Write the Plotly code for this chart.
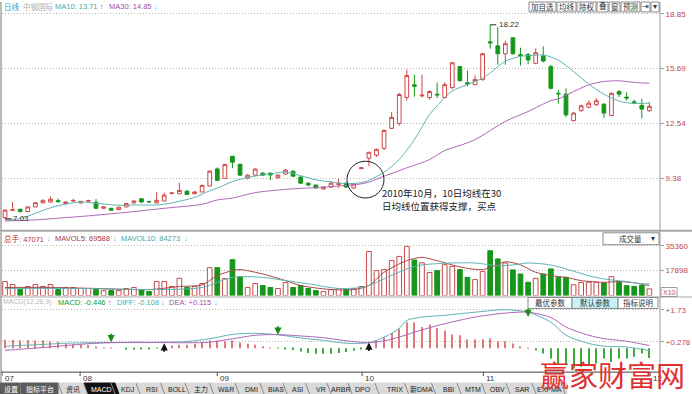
import plotly.graph_objects as go

W, H = 692, 394
def X(px): return px / W
def Y(py): return 1 - py / H

FONT = "Liberation Sans, Noto Sans CJK SC, sans-serif"
CJK = "Noto Sans CJK SC, sans-serif"

# ---------------- data ----------------
candle_idx = list(range(86))
opens = [7.10,7.52,7.58,7.45,7.72,7.95,8.00,8.08,7.91,8.06,
         7.95,8.06,7.99,7.64,7.64,7.56,7.72,7.95,8.19,8.03,
         7.95,8.06,8.49,8.48,8.63,8.48,8.58,8.92,9.91,9.36,
         10.64,10.18,9.38,9.55,9.67,9.67,9.40,9.61,9.78,9.44,
         9.09,8.98,8.75,8.86,9.02,9.09,8.81,9.93,10.53,10.70,
         11.10,12.25,12.54,14.03,14.76,14.12,14.03,14.22,14.03,14.60,
         15.81,14.88,14.77,15.06,17.24,17.01,16.55,17.47,16.50,16.51,
         16.00,16.42,15.81,14.27,14.22,12.69,13.28,13.47,13.61,13.64,
         12.99,14.37,14.05,13.78,13.57,13.27]
highs = [7.60,8.00,7.62,7.75,8.00,8.14,8.31,8.20,8.03,8.20,
         8.06,8.13,8.17,7.74,7.66,7.72,7.95,8.10,8.22,8.08,
         8.58,8.55,8.58,9.11,8.66,8.62,9.00,9.82,10.00,10.20,
         10.66,10.20,9.60,9.95,9.70,9.70,9.60,9.90,9.82,9.46,
         9.12,9.00,8.90,9.20,9.33,9.12,9.08,10.00,10.90,11.08,
         12.20,13.20,14.30,15.63,15.35,15.35,14.45,14.90,14.90,16.08,
         15.85,15.58,15.30,16.60,18.22,18.10,17.30,17.50,16.90,16.60,
         16.85,16.97,15.90,14.45,14.56,13.20,13.62,13.85,14.00,13.70,
         14.32,14.45,14.32,13.90,13.95,13.75]
lows = [7.03,7.48,7.40,7.42,7.70,7.92,7.97,7.98,7.88,8.00,
        7.92,8.02,7.60,7.62,7.48,7.54,7.70,7.93,7.98,7.98,
        7.93,8.04,8.45,8.46,8.42,8.45,8.55,8.90,9.20,9.34,
        9.95,9.50,9.30,9.50,9.50,9.26,9.36,9.58,9.45,9.05,
        8.92,8.78,8.72,8.84,8.82,8.82,8.78,9.90,10.07,10.60,
        11.00,12.20,12.40,13.85,14.08,14.03,13.90,14.00,13.98,14.50,
        14.95,14.66,14.75,15.00,16.84,15.92,15.92,16.50,15.87,15.95,
        15.95,16.05,14.50,13.68,12.90,12.65,13.20,13.40,13.55,12.85,
        12.95,14.05,13.85,13.65,12.82,13.20]
closes = [7.53,7.55,7.45,7.72,7.96,8.10,8.16,8.02,8.00,8.09,
          8.04,8.08,7.64,7.72,7.53,7.70,7.91,8.06,8.00,8.01,
          8.10,8.40,8.52,8.67,8.44,8.58,8.96,9.78,9.25,10.17,
          10.30,9.55,9.55,9.90,9.55,9.56,9.55,9.84,9.49,9.09,
          8.98,8.81,8.86,9.09,9.05,8.86,9.04,9.97,10.87,11.04,
          12.13,12.88,14.20,15.29,14.68,14.16,14.37,14.18,14.77,16.03,
          15.00,14.80,15.06,16.55,17.18,16.55,17.13,16.55,16.45,16.19,
          16.61,16.13,14.56,14.24,13.03,13.13,13.55,13.70,13.84,13.13,
          14.27,14.22,14.00,13.73,13.36,13.52]

ma10_x = [0,2,4,6,8,10,12,15,17,20,22,25,27,28,30,33,35,37,39,41,43,45,47,48,50,52,54,56,57,59,61,63,64,66,68,70,71,73,75,77,79,81,83,85]
ma10 = [6.97,7.05,7.35,7.67,7.88,8.00,7.93,7.81,7.83,7.83,7.95,8.27,8.65,8.80,9.18,9.50,9.63,9.72,9.52,9.28,
        9.16,9.06,9.12,9.25,9.72,10.45,11.60,13.05,13.55,14.40,14.77,15.15,15.45,16.12,16.40,16.46,16.49,16.18,15.52,14.80,
        14.22,13.82,13.68,13.71]
ma30_x = [0,4,8,12,17,21,26,28,30,33,37,42,45,47,48,50,53,56,58,60,62,66,69,72,73,75,77,79,81,83,85]
ma30 = [6.91,6.97,7.10,7.24,7.45,7.64,7.87,8.12,8.23,8.54,8.73,8.86,8.96,9.05,9.15,9.49,9.97,10.45,10.97,11.26,
        11.60,12.65,13.22,13.85,13.95,14.37,14.76,14.95,14.99,14.90,14.85]

volumes = [9900,7800,4200,6400,7800,6400,7800,4200,5700,5700,
           5000,5000,5000,3500,3500,3500,5000,5700,4200,2800,
           9900,9900,6400,12200,5700,6400,8500,19800,19800,12000,
           25500,13400,5700,8500,7100,5700,5000,9200,5700,7100,
           5000,3500,2800,4200,5000,4200,5000,6400,31300,17700,
           18400,24800,27800,34900,25200,23300,16300,17700,21900,20700,
           18400,12900,11300,17000,31800,26000,23100,18200,15300,9400,
           12200,15300,18900,12900,12900,7600,9200,9400,9400,9000,
           13400,9400,7000,6500,7200,4707]
mavol5_x = [0,6,12,19,23,26,28,30,31,34,37,39,43,46,48,50,53,55,57,59,61,63,64,66,68,70,72,74,76,79,81,83,85]
mavol5 = [5700,5700,5000,4200,6400,7600,14100,17700,18400,15300,10600,7100,4200,4200,7100,16500,24800,27100,24800,21700,
          19300,18400,20000,24000,21700,16500,14100,12900,10600,9400,9900,9000,6959]
mavol10_x = [0,10,20,26,30,34,37,40,44,47,48,53,55,59,62,65,67,69,72,74,77,79,82,84,85]
mavol10 = [5000,5000,4200,5700,12900,12900,10600,8300,5000,5700,7100,18900,21700,23100,23100,21200,21700,23100,21700,18900,
           14100,11800,9900,8300,8427]

macd = [0.38,0.38,0.36,0.36,0.34,0.34,0.30,0.28,0.20,0.18,
        0.16,0.14,0.04,0.02,0.01,0.00,-0.02,-0.03,-0.03,-0.02,
        -0.01,0.01,0.12,0.15,0.15,0.20,0.25,0.34,0.34,0.30,
        0.34,0.25,0.20,0.15,0.09,0.02,-0.01,-0.02,-0.08,-0.15,
        -0.22,-0.25,-0.25,-0.25,-0.22,-0.17,-0.12,-0.05,0.03,0.35,
        0.50,0.68,0.88,1.17,1.15,0.95,1.06,0.91,0.80,0.61,
        0.58,0.39,0.39,0.40,0.43,0.31,0.31,0.21,0.09,0.02,
        -0.09,-0.24,-0.47,-0.74,-0.77,-0.91,-0.84,-0.77,-0.69,-0.47,
        -0.62,-0.47,-0.47,-0.39,-0.24,-0.446]
diff_x = [0,4,8,12,16,20,24,27,30,33,36,39,42,45,48,50,52,53,55,58,62,66,69,72,74,77,79,82,85]
diff = [0.09,0.15,0.22,0.25,0.25,0.255,0.30,0.42,0.62,0.67,0.60,0.46,0.35,0.22,0.25,0.49,0.89,1.25,1.40,1.48,
        1.62,1.73,1.62,1.17,0.58,0.21,0.09,0.05,-0.108]
dea_x = [0,4,8,12,16,20,24,27,30,33,36,39,42,45,48,50,52,54,56,58,62,66,69,72,74,77,79,82,85]
dea = [-0.10,0.00,0.12,0.22,0.26,0.26,0.24,0.27,0.42,0.58,0.61,0.55,0.47,0.33,0.25,0.33,0.50,0.72,0.92,1.10,
       1.40,1.58,1.62,1.38,0.95,0.58,0.43,0.31,0.115]

cross_up_x = [21, 48]
cross_up_y = [0.22, 0.25]
cross_dn_x = [14, 36, 69]
cross_dn_y = [0.27, 0.60, 1.40]

month_labels = ["07", "08", "09", "10", "11", "12"]
month_pos = [-0.4, 9.9, 28.0, 47.1, 63.1, 85.1]

price_ticks = [9.38, 12.54, 15.69, 18.85]
price_ticktext = ["9.38", "12.54", "15.69", "18.85"]
vol_ticks = [17898, 35360]
macd_ticks = [0.278, 1.73]
macd_ticktext = ["+0.278", "+1.73"]

# ---------------- colours ----------------
RED = "#d04545"
GREEN = "#16961a"
TEAL = "#5cb3b3"
PURPLE = "#b065b8"
AXR = "#c04848"

fig = go.Figure()

fig.add_trace(go.Candlestick(
    x=candle_idx, open=opens, high=highs, low=lows, close=closes,
    increasing=dict(line=dict(color=RED, width=1), fillcolor="white"),
    decreasing=dict(line=dict(color=GREEN, width=1), fillcolor=GREEN),
    whiskerwidth=0, hoverinfo="skip", yaxis="y"))
fig.add_trace(go.Scatter(x=ma10_x, y=ma10, mode="lines", line=dict(color=TEAL, width=1, shape="spline", smoothing=0.8), yaxis="y", hoverinfo="skip"))
fig.add_trace(go.Scatter(x=ma30_x, y=ma30, mode="lines", line=dict(color=PURPLE, width=1, shape="spline", smoothing=0.8), yaxis="y", hoverinfo="skip"))

up = [c >= o for o, c in zip(opens, closes)]
fig.add_trace(go.Bar(
    x=candle_idx, y=volumes, width=0.62, yaxis="y2",
    marker=dict(color=["white" if u else GREEN for u in up],
                line=dict(color=["#c44a4a" if u else GREEN for u in up], width=1)),
    hoverinfo="skip"))
fig.add_trace(go.Scatter(x=mavol5_x, y=mavol5, mode="lines", line=dict(color="#a84848", width=1, shape="spline", smoothing=0.8), yaxis="y2", hoverinfo="skip"))
fig.add_trace(go.Scatter(x=mavol10_x, y=mavol10, mode="lines", line=dict(color=TEAL, width=1, shape="spline", smoothing=0.8), yaxis="y2", hoverinfo="skip"))

fig.add_trace(go.Bar(
    x=candle_idx, y=macd, width=0.14, yaxis="y3",
    marker=dict(color=["#e07b7b" if v >= 0 else "#3aaa3a" for v in macd], line=dict(width=0)),
    hoverinfo="skip"))
fig.add_trace(go.Scatter(x=diff_x, y=diff, mode="lines", line=dict(color=TEAL, width=1, shape="spline", smoothing=0.8), yaxis="y3", hoverinfo="skip"))
fig.add_trace(go.Scatter(x=dea_x, y=dea, mode="lines", line=dict(color=PURPLE, width=1, shape="spline", smoothing=0.8), yaxis="y3", hoverinfo="skip"))

# ---------------- axes ----------------
def p_of(py):  # price panel pixel->value
    return 9.38 + (177 - py) / 17.43
def v_of(py):
    return (295 - py) * 707.2
def m_of(py):
    return (347.9 - py) / 22.3

grid = dict(showgrid=True, gridcolor="#b4b4b4", griddash="1px,2px", gridwidth=1,
            zeroline=False, side="right", anchor="x", ticks="outside", ticklen=3,
            tickcolor="#999999", tickfont=dict(size=8, color=AXR, family=FONT),
            showline=False, fixedrange=True)

fig.update_layout(
    width=W, height=H, margin=dict(l=0, r=0, t=0, b=0),
    paper_bgcolor="white", plot_bgcolor="white", showlegend=False,
    barmode="overlay",
    xaxis=dict(domain=[X(2), X(660)], range=[-0.4, 86.4], visible=False,
               rangeslider=dict(visible=False), fixedrange=True),
    yaxis=dict(domain=[Y(228), Y(10)], range=[p_of(228), p_of(10)],
               tickvals=price_ticks, ticktext=price_ticktext, **grid),
    yaxis2=dict(domain=[Y(295), Y(232)], range=[0, v_of(232)],
                tickvals=vol_ticks, ticktext=[str(v) for v in vol_ticks], **grid),
    yaxis3=dict(domain=[Y(372), Y(297)], range=[m_of(372), m_of(297)],
                tickvals=macd_ticks, ticktext=macd_ticktext, **grid),
)

shapes = []
ann = []

def line(x0, y0, x1, y1, color="#888", width=1):
    shapes.append(dict(type="line", xref="paper", yref="paper",
                       x0=X(x0), y0=Y(y0), x1=X(x1), y1=Y(y1),
                       line=dict(color=color, width=width), layer="above"))

def rect(x0, y0, x1, y1, fill="white", color="#888", width=1):
    shapes.append(dict(type="rect", xref="paper", yref="paper",
                       x0=X(x0), y0=Y(y0), x1=X(x1), y1=Y(y1),
                       fillcolor=fill, line=dict(color=color, width=width), layer="above"))

def poly(pts, fill, color="#888"):
    path = "M " + " L ".join(f"{X(a):.5f},{Y(b):.5f}" for a, b in pts) + " Z"
    shapes.append(dict(type="path", xref="paper", yref="paper", path=path,
                       fillcolor=fill, line=dict(color=color, width=1), layer="above"))

def txt(px, py, s, color="#333", size=7.5, anchor="left", family=FONT, **kw):
    ann.append(dict(x=X(px), y=Y(py), xref="paper", yref="paper", text=s,
                    showarrow=False, xanchor=anchor, yanchor="middle",
                    font=dict(size=size, color=color, family=family), **kw))

# frame lines
line(1, 0, 1, 383, "#777")
line(660, 0, 660, 376, "#999")
line(0, 230, 692, 230, "#a8a8a8", 2)
line(0, 296.5, 692, 296.5, "#a8a8a8", 1)
line(1, 372, 660, 372, "#444")

# header: price
txt(2, 5, "日线", "#3a9ec0")
txt(21, 5, "中钢国际", "#b0b0b0")
txt(53, 5, "MA10: 13.71", "#4aa8a8")
txt(98, 5, "↑", "#e03030")
txt(107, 5, "MA30: 14.85", "#a050a8")
txt(152, 5, "↓", "#30c0e0")

# top-right buttons
buttons = [("加自选", 529, 556), ("均线", 557, 576), ("除权", 577, 596), ("叠", 597, 608),
           ("窗", 609, 620), ("预测", 621, 640), ("⇥", 641, 650), ("▾", 651, 659)]
for lab, a, b in buttons:
    rect(a, 0, b, 10, "white", "#8a8a8a")
    txt((a + b) / 2, 5, lab, "#333", 7.5, "center")

# header: volume
txt(2, 238, "总手: 47071", "#c03030")
txt(45, 238, "↓", "#30c0e0")
txt(53, 238, "MAVOL5: 69588", "#a04040")
txt(111, 238, "↓", "#30c0e0")
txt(119, 238, "MAVOL10: 84273", "#4aa8a8")
txt(182, 238, "↓", "#30c0e0")
rect(603, 232, 659, 244, "white", "#888")
txt(630, 238, "成交量", "#333", 7.5, "center")
txt(653, 238, "▾", "#333", 7.5, "center")
rect(661, 287, 677, 296, "white", "#999")
txt(669, 291.5, "X10", AXR, 7, "center")

# header: MACD
txt(1, 302, "MACD(12,26,9)", "#b8b8b8", 7)
txt(56, 302, "MACD: -0.446", "#20a020")
txt(106, 302, "↑", "#e03030")
txt(115, 302, "DIFF: -0.108", "#4aa8a8")
txt(159, 302, "↓", "#30c0e0")
txt(167, 302, "DEA: +0.115", "#a050a8")
txt(212, 302, "↓", "#30c0e0")
rect(528, 297, 572, 308, "white", "#888")
rect(572, 297, 618, 308, "#c8f2fa", "#888")
rect(618, 297, 658, 308, "white", "#888")
txt(550, 302.5, "最优参数", "#333", 7.5, "center")
txt(595, 302.5, "默认参数", "#333", 7.5, "center")
txt(638, 302.5, "指标说明", "#333", 7.5, "center")

# price annotations
shapes.append(dict(type="line", xref="x", yref="y", x0=64, x1=64.8, y0=18.22, y1=18.22,
                   line=dict(color="#222", width=1)))
ann.append(dict(x=64.85, y=18.22, xref="x", yref="y", text="18.22", showarrow=False,
                xanchor="left", yanchor="middle", font=dict(size=8, color="#333", family=FONT)))
shapes.append(dict(type="line", xref="x", yref="y", x0=0, x1=0.8, y0=7.03, y1=7.03,
                   line=dict(color="#222", width=1)))
ann.append(dict(x=0.85, y=7.03, xref="x", yref="y", text="7.03", showarrow=False,
                xanchor="left", yanchor="middle", font=dict(size=8, color="#333", family=FONT)))

shapes.append(dict(type="circle", xref="paper", yref="paper",
                   x0=X(347), x1=X(384), y0=Y(197), y1=Y(160),
                   line=dict(color="#222", width=1)))
txt(380, 192, "2010年10月，10日均线在30", "#222", 9.5, family=CJK)
txt(380, 205, "日均线位置获得支撑，买点", "#222", 9.5, family=CJK)

# MACD cross arrows
for xv, yv in zip(cross_up_x, cross_up_y):
    ann.append(dict(x=xv, y=yv, xref="x", yref="y3", text="", showarrow=True,
                    ax=0, ay=10, arrowhead=2, arrowsize=0.9, arrowwidth=1.6, arrowcolor="#111"))
for xv, yv in zip(cross_dn_x, cross_dn_y):
    ann.append(dict(x=xv, y=yv, xref="x", yref="y3", text="", showarrow=True,
                    ax=0, ay=-10, arrowhead=2, arrowsize=0.9, arrowwidth=1.6, arrowcolor="#1a8a1a"))

# month labels on the time axis
for lab, pos in zip(month_labels, month_pos):
    shapes.append(dict(type="line", xref="x", yref="paper", x0=pos, x1=pos,
                       y0=Y(372), y1=Y(376), line=dict(color="#444", width=1)))
    ann.append(dict(x=pos, y=Y(378.5), xref="x", yref="paper", text=lab, showarrow=False,
                    xanchor="left", yanchor="middle", xshift=1,
                    font=dict(size=8, color="#333", family=FONT)))

# bottom tab bar
rect(0, 383, 567, 394, "#d9d9d9", "#d9d9d9")
rect(0, 383, 20, 394, "#5c5c5c", "#5c5c5c")
txt(10.5, 389, "设置", "white", 7, "center")
rect(21, 383, 58, 394, "#5c5c5c", "#5c5c5c")
txt(39.5, 389, "指标平台", "white", 7, "center")
tab_labels = ["资讯", "MACD", "KDJ", "RSI", "BOLL", "主力", "W&R", "DMI", "BIAS", "ASI", "VR",
              "ARBR", "DPO", "TRIX", "新DMA", "BBI", "MTM", "OBV", "SAR", "EXPMA"]
tab_centers = [71, 100, 126, 150, 175, 199, 224, 250, 274, 296, 319, 339, 361, 393, 420, 447, 471, 496, 520, 548]
seps = [60] + [(tab_centers[i] + tab_centers[i + 1]) / 2 for i in range(len(tab_centers) - 1)] + [563]
poly([(84, 383), (115, 383), (119, 394), (88, 394)], "#111111", "#111111")
for s in seps:
    line(s - 2, 383, s + 2, 394, "#8a8a8a")
for lab, c in zip(tab_labels, tab_centers):
    txt(c + 1.5, 389, lab, "white" if lab == "MACD" else "#222", 7, "center")

# watermark
txt(612, 374, "赢家财富网", "#e23030", 29, "center", family=CJK)

fig.update_layout(shapes=shapes, annotations=ann)
fig.write_html("out.html", config={"displayModeBar": False},
               post_script="document.body.style.margin='0';document.body.style.padding='0';")
